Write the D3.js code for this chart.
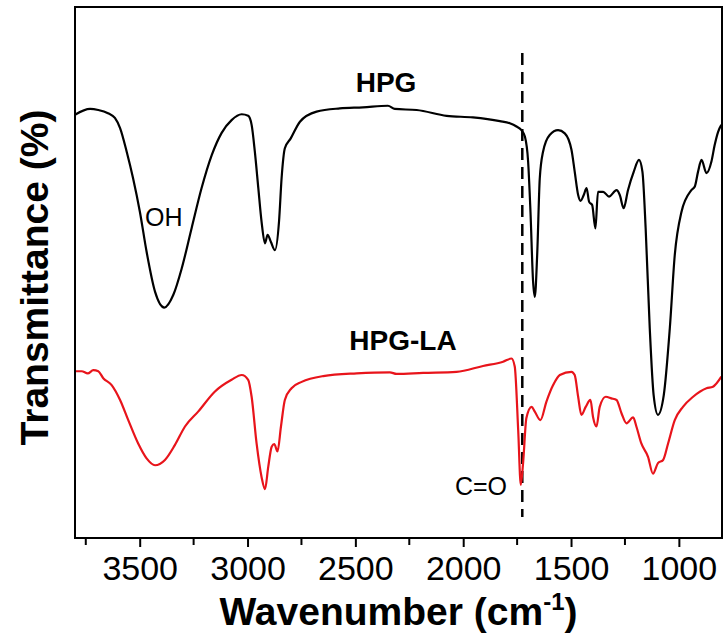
<!DOCTYPE html>
<html>
<head>
<meta charset="utf-8">
<script src="https://cdn.jsdelivr.net/npm/d3@7"></script>
<style>
  body { margin: 0; background: #ffffff; }
  svg { display: block; font-family: Arial, 'Liberation Sans', sans-serif; }
</style>
</head>
<body>
<svg id="chart" width="726" height="641"></svg>
<script>
// HPG spectrum (black)
var hpgWavenumber = [3800, 3730, 3692, 3647, 3615, 3591, 3560, 3531, 3499, 3468, 3429, 3386, 3344, 3305, 3259, 3213, 3166, 3120, 3074, 3027, 2997, 2981, 2966, 2950, 2935, 2919, 2907, 2892, 2873, 2854, 2842, 2827, 2799, 2757, 2680, 2572, 2465, 2349, 2317, 2216, 2077, 1955, 1830, 1784, 1753, 1730, 1714, 1699, 1688, 1676, 1668, 1657, 1645, 1630, 1599, 1560, 1529, 1498, 1483, 1467, 1456, 1441, 1428, 1416, 1402, 1387, 1375, 1351, 1324, 1289, 1274, 1256, 1236, 1209, 1185, 1169, 1154, 1135, 1117, 1097, 1070, 1042, 1019, 988, 942, 926, 911, 895, 872, 849, 834, 818, 803];
var hpgT = [79.7, 80.8, 80.6, 80.0, 79.1, 77.2, 72.7, 67.8, 61.4, 53.9, 46.4, 43.4, 45.8, 50.8, 58.4, 65.9, 72.1, 76.3, 78.7, 79.8, 79.5, 77.8, 72.7, 65.9, 59.6, 55.5, 57.1, 55.8, 54.2, 59.6, 67.8, 73.4, 75.3, 78.4, 80.3, 80.9, 81.1, 81.4, 80.8, 80.6, 79.5, 79.2, 78.5, 78.1, 77.5, 76.8, 75.6, 70.9, 61.4, 48.3, 45.4, 53.3, 67.7, 72.7, 75.9, 76.8, 76.2, 73.1, 69.0, 64.6, 63.5, 64.6, 65.9, 63.3, 62.7, 58.3, 65.2, 65.2, 64.3, 65.5, 64.6, 62.1, 65.5, 69.0, 71.2, 69.0, 58.3, 39.5, 26.9, 23.2, 26.9, 39.5, 53.3, 61.4, 65.5, 66.2, 69.0, 71.2, 68.7, 70.9, 74.0, 76.5, 77.8];

// HPG-LA spectrum (red)
var hplaWavenumber = [3800, 3769, 3741, 3715, 3692, 3669, 3630, 3591, 3553, 3507, 3468, 3429, 3383, 3337, 3290, 3229, 3151, 3074, 3027, 2997, 2981, 2958, 2935, 2919, 2904, 2888, 2876, 2861, 2845, 2827, 2796, 2749, 2649, 2494, 2340, 2309, 2186, 2031, 1908, 1815, 1776, 1761, 1745, 1733, 1722, 1707, 1683, 1668, 1642, 1614, 1583, 1552, 1498, 1483, 1467, 1452, 1432, 1410, 1398, 1382, 1367, 1339, 1313, 1289, 1266, 1243, 1212, 1197, 1174, 1143, 1120, 1097, 1073, 1050, 1019, 981, 934, 872, 842, 803];
var hplaT = [31.4, 31.4, 31.0, 31.6, 31.4, 30.1, 28.8, 26.0, 22.2, 17.8, 15.0, 13.7, 14.7, 17.5, 21.0, 23.8, 27.6, 29.8, 30.7, 29.8, 26.6, 17.8, 11.5, 9.2, 13.4, 17.2, 17.7, 16.3, 21.0, 26.0, 28.2, 29.4, 30.5, 31.0, 31.2, 30.9, 31.1, 31.3, 32.4, 33.2, 33.8, 32.3, 20.3, 10.0, 14.3, 22.6, 24.7, 23.8, 22.2, 25.7, 28.8, 30.7, 31.3, 30.7, 26.6, 23.2, 24.7, 26.0, 22.8, 21.0, 24.7, 26.6, 26.3, 26.0, 23.5, 21.6, 22.7, 21.0, 17.8, 15.3, 12.1, 14.1, 14.7, 17.8, 22.2, 24.7, 26.6, 28.2, 28.5, 30.4];

var majorTicks = [3500, 3000, 2500, 2000, 1500, 1000];
var minorTicks = [3750, 3250, 2750, 2250, 1750, 1250];
var carbonylLine = 1726;

function drawSpectra() {
  var svg = d3.select('#chart');
  var plotLeft = 75, plotRight = 722, plotTop = 7, plotBottom = 538;

  var x = d3.scaleLinear().domain([3800, 800]).range([plotLeft, plotRight]);
  var y = d3.scaleLinear().domain([0, 100]).range([plotBottom, plotTop]);

  function series(wn, t) {
    return wn.map(function(w, i) { return { w: w, t: t[i] }; });
  }

  var line = d3.line()
    .x(function(d) { return x(d.w); })
    .y(function(d) { return y(d.t); })
    .curve(d3.curveMonotoneX);

  svg.append('rect')
    .attr('width', 726)
    .attr('height', 641)
    .style('fill', '#ffffff');

  // dashed marker at the C=O band
  svg.append('line')
    .attr('x1', x(carbonylLine))
    .attr('x2', x(carbonylLine))
    .attr('y1', 53)
    .attr('y2', 517)
    .attr('stroke', '#000000')
    .attr('stroke-width', 2.5)
    .attr('stroke-dasharray', '12,7');

  svg.append('path')
    .datum(series(hpgWavenumber, hpgT))
    .attr('d', line)
    .attr('fill', 'none')
    .attr('stroke', '#000000')
    .attr('stroke-width', 2.2);

  svg.append('path')
    .datum(series(hplaWavenumber, hplaT))
    .attr('d', line)
    .attr('fill', 'none')
    .attr('stroke', '#e8141b')
    .attr('stroke-width', 2.2);

  // frame
  svg.append('rect')
    .attr('x', plotLeft)
    .attr('y', plotTop)
    .attr('width', plotRight - plotLeft)
    .attr('height', plotBottom - plotTop)
    .attr('fill', 'none')
    .attr('stroke', '#000000')
    .attr('stroke-width', 2);

  var axis = svg.append('g')
    .attr('transform', 'translate(0,' + plotBottom + ')');

  axis.call(d3.axisBottom(x)
      .tickValues(majorTicks)
      .tickSize(9)
      .tickPadding(9)
      .tickFormat(d3.format('d')))
    .call(function(g) { g.select('.domain').remove(); });

  axis.selectAll('.tick line').attr('stroke-width', 2);
  axis.selectAll('.tick text')
    .style('font-size', '34px')
    .style('font-family', 'Arial, "Liberation Sans", sans-serif')
    .style('fill', '#000000');

  axis.selectAll('.minor')
    .data(minorTicks)
    .enter().append('line')
    .attr('class', 'minor')
    .attr('x1', function(d) { return x(d); })
    .attr('x2', function(d) { return x(d); })
    .attr('y1', 0)
    .attr('y2', 7)
    .attr('stroke', '#000000')
    .attr('stroke-width', 2);

  // axis titles
  var xTitle = svg.append('text')
    .attr('x', (plotLeft + plotRight) / 2)
    .attr('y', 625)
    .style('text-anchor', 'middle')
    .style('font-size', '39px')
    .style('font-weight', 'bold')
    .text('Wavenumber (cm');
  xTitle.append('tspan')
    .attr('dy', -15)
    .style('font-size', '24px')
    .text('-1');
  xTitle.append('tspan')
    .attr('dy', 15)
    .text(')');

  svg.append('text')
    .attr('transform', 'translate(48,' + ((plotTop + plotBottom) / 2 + 5) + ') rotate(-90)')
    .style('text-anchor', 'middle')
    .style('font-size', '39px')
    .style('font-weight', 'bold')
    .text('Transmittance (%)');

  // labels
  svg.append('text')
    .attr('x', 386)
    .attr('y', 92)
    .style('text-anchor', 'middle')
    .style('font-size', '28px')
    .style('font-weight', 'bold')
    .text('HPG');

  svg.append('text')
    .attr('x', 403)
    .attr('y', 350)
    .style('text-anchor', 'middle')
    .style('font-size', '28px')
    .style('font-weight', 'bold')
    .text('HPG-LA');

  svg.append('text')
    .attr('x', 145)
    .attr('y', 226)
    .style('font-size', '25px')
    .text('OH');

  svg.append('text')
    .attr('x', 507)
    .attr('y', 495)
    .style('text-anchor', 'end')
    .style('font-size', '25px')
    .text('C=O');
}

drawSpectra();
</script>
</body>
</html>
